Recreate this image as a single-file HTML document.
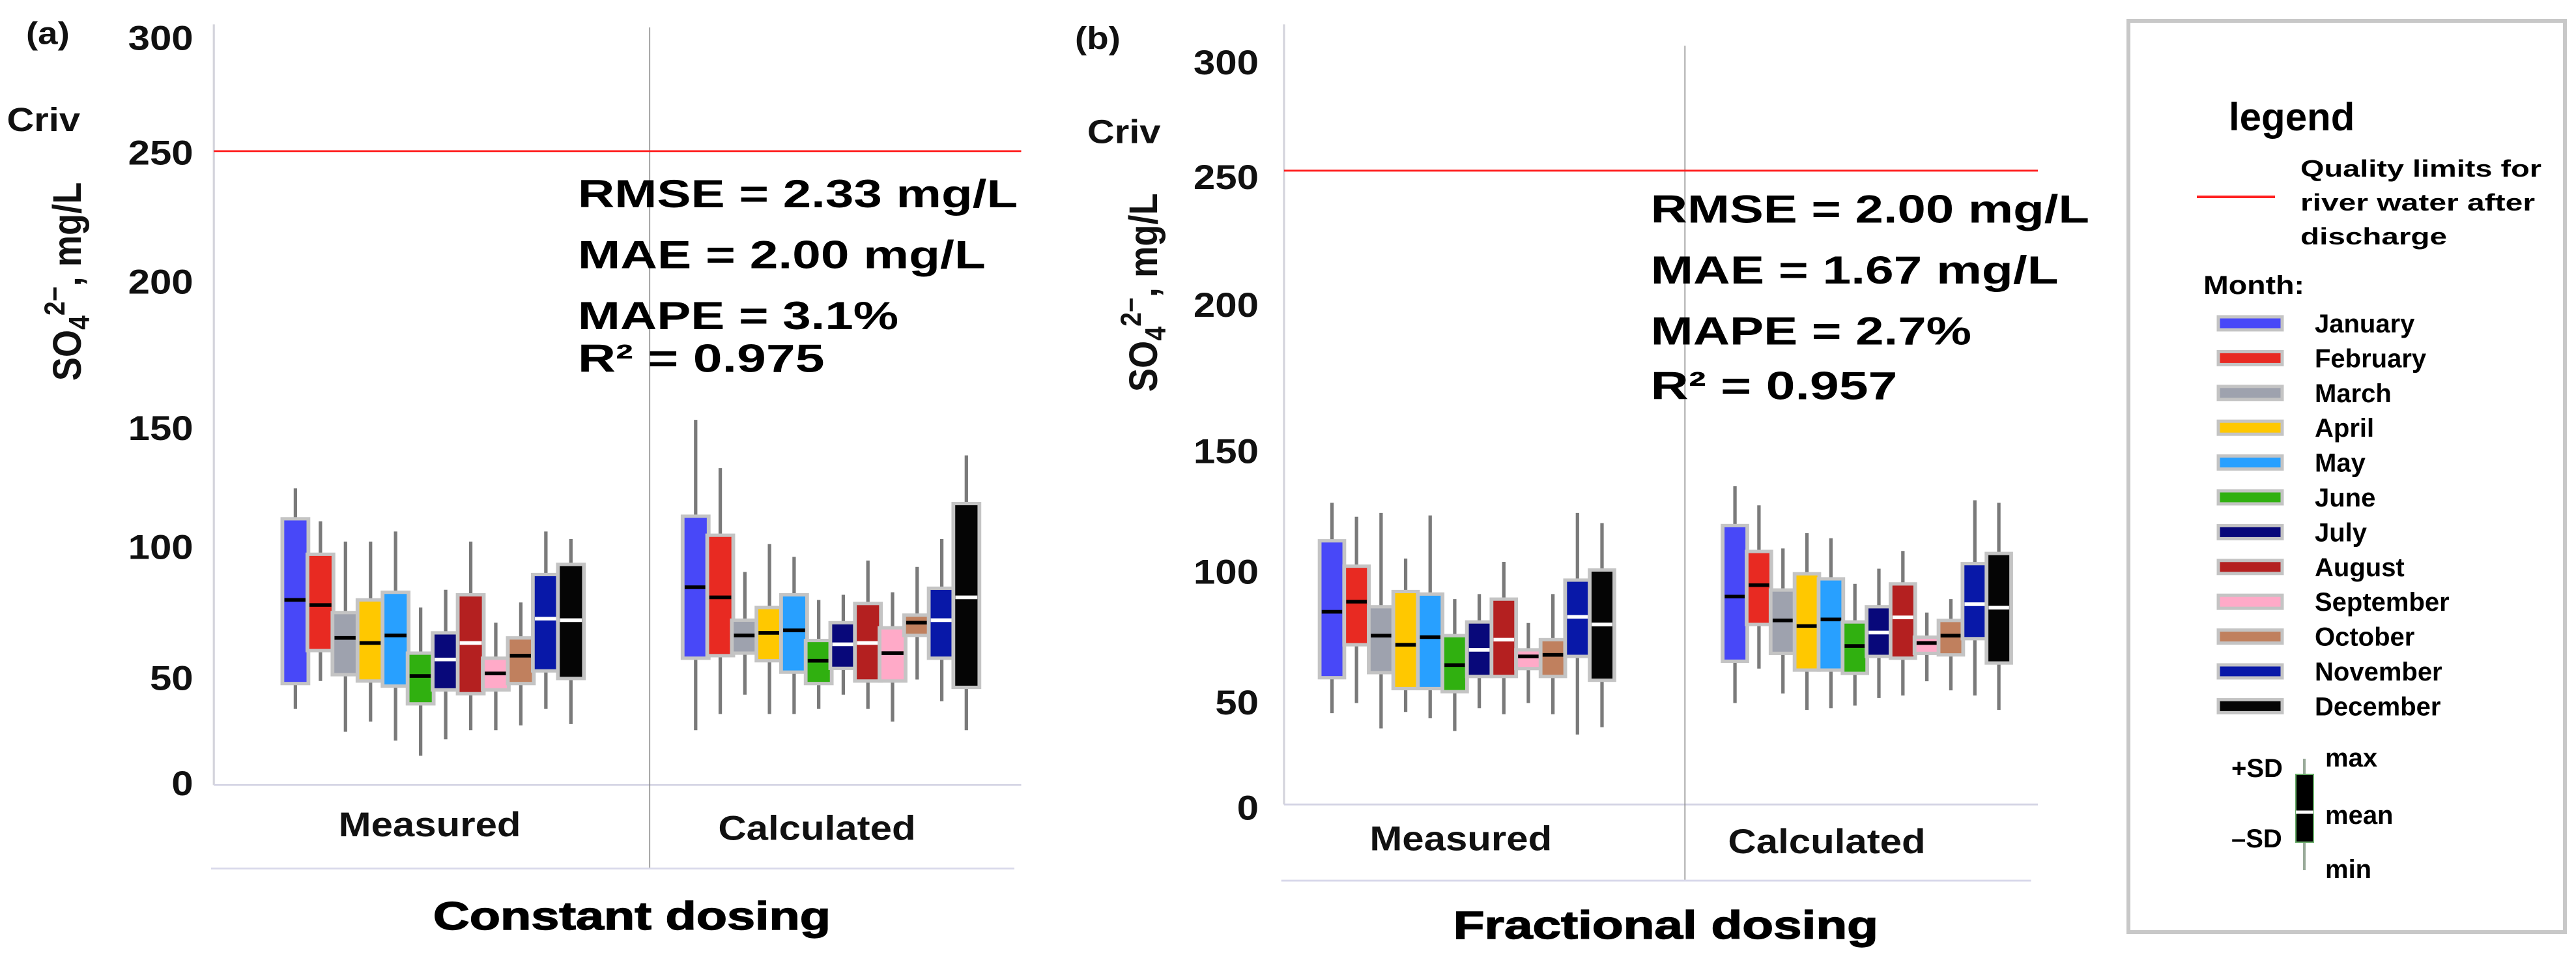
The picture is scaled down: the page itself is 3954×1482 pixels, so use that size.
<!DOCTYPE html>
<html><head><meta charset="utf-8"><style>
html,body{margin:0;padding:0;background:#fff;overflow:hidden}
svg{display:block;font-family:"Liberation Sans",Arial,sans-serif;font-weight:bold}
</style></head><body>
<svg id="fig" width="3954" height="1482" viewBox="0 0 3954 1482" xmlns="http://www.w3.org/2000/svg">
<rect width="3954" height="1482" fill="#fff"/>
<g id="panelA" transform="translate(0,0) scale(1.052,0.935)"></g>
<g id="panelB" transform="translate(1650,0) scale(1.052,0.935)"></g>
<g id="legend">
  <rect x="3267" y="32" width="670" height="1398" fill="#fff" stroke="#c8c8c8" stroke-width="6"/>
  <text x="3421" y="200" font-size="60">legend</text>
  <line x1="3372" y1="302" x2="3492" y2="302" stroke="#ff2020" stroke-width="4"/>
  <text x="3531" y="271" font-size="36" textLength="370" lengthAdjust="spacingAndGlyphs">Quality limits for</text>
  <text x="3531" y="323" font-size="36" textLength="360" lengthAdjust="spacingAndGlyphs">river water after</text>
  <text x="3531" y="375" font-size="36" textLength="225" lengthAdjust="spacingAndGlyphs">discharge</text>
  <text x="3382" y="451" font-size="40" textLength="155" lengthAdjust="spacingAndGlyphs">Month:</text>
  <g id="legendMonths"></g>
  <line x1="3537" y1="1164" x2="3537" y2="1335" stroke="#9a9" stroke-width="4"/>
  <rect x="3524" y="1188" width="27" height="104" fill="#000" stroke="#6a6" stroke-width="2"/>
  <line x1="3524" y1="1246" x2="3551" y2="1246" stroke="#fff" stroke-width="5"/>
  <text x="3425" y="1192" font-size="40">+SD</text>
  <text x="3425" y="1300" font-size="40">–SD</text>
  <text x="3569" y="1176" font-size="40">max</text>
  <text x="3569" y="1264" font-size="40">mean</text>
  <text x="3569" y="1347" font-size="40">min</text>
</g>
</svg>
<script>
const NS = "http://www.w3.org/2000/svg";
const months = ["January","February","March","April","May","June","July","August","September","October","November","December"];
const monthColors = ["#4848f8","#e82a22","#9ea2ae","#ffc800","#28a0ff","#30b010","#08087a","#b42020","#ffaac8","#c0805e","#0818a8","#050505"];
const meanColors = ["#000","#000","#000","#000","#000","#000","#fff","#fff","#000","#000","#fff","#fff"];
const tickValues = [0,50,100,150,200,250,300];
const tickLabels = ["0","50","100","150","200","250","300"];
const limitValue = 250;

// Panel A: constant dosing
const aMeasMax  = [117,104,96,96,100,70,77,96,64,72,100,97];
const aMeasHi   = [105,91,68,73,76,52,60,75,50,58,83,87];
const aMeasMean = [73,71,58,56,59,43,49.5,56,44,51,65.6,65];
const aMeasLo   = [40,53,43.5,41,39,32,37.5,36,37.5,40,45,42];
const aMeasMin  = [30,41,21,25,17.5,11.5,18,21.6,21.6,23.5,30,24];
const aCalcMax  = [144,125,84,95,90,73,75,88.5,76,86,97,130];
const aCalcHi   = [106,98.5,65,70,75,57,64,71.6,62,67,77.6,111];
const aCalcMean = [78,74,59,60,61,49,55.5,56,52,64,65,74];
const aCalcLo   = [50,51,52,49,44.5,40,46,41,41,59,50,38.5];
const aCalcMin  = [21.6,28,35.6,28,28,30,35.6,30,25,41.6,33,21.6];

// Panel B: fractional dosing
const bMeasMax  = [119,113.5,115,97,114,81,83,95.7,71.6,83,115,111];
const bMeasHi   = [104,94,78,84,83,66.6,72,81,61,65,88.5,92.5];
const bMeasMean = [76,80,66.6,63,66,55,61,65,58.4,59,74,71];
const bMeasLo   = [50,63,52,45.7,45.7,44.5,50.5,50.5,53.6,50.5,58.4,49];
const bMeasMin  = [36,40,30,36.5,34,29,38,35.6,40,35.6,27.6,30.5];
const bCalcMax  = [125.5,118,101,107,105,87,93,100,75.7,81,120,119];
const bCalcHi   = [110,99.8,84.6,91,89,72,78,87,66,72.6,95,99];
const bCalcMean = [82,86.5,72.6,70.4,73,62.5,67.8,73.8,63.7,66.6,79,77.6];
const bCalcLo   = [56.5,71,59.6,53,53,51.7,58.4,57.7,59.6,59,65.4,55.8];
const bCalcMin  = [40,53.6,43.8,37.3,38,39,42,43,48.6,45,43,37.3];

function mk(tag, attrs, parent, text){
  const e = document.createElementNS(NS, tag);
  for (const k in attrs) e.setAttribute(k, attrs[k]);
  if (text !== undefined) e.textContent = text;
  parent.appendChild(e);
  return e;
}

function drawPanel(g, cfg){
  const y = v => cfg.base - v * (cfg.base - cfg.limitY) / limitValue;
  let e;
  e = mk("line",{x1:cfg.left,y1:40,x2:cfg.left,y2:cfg.base,stroke:"#d4d4dc","stroke-width":3},g);
  
  
  e = mk("line",{x1:cfg.left,y1:cfg.base,x2:cfg.right,y2:cfg.base,stroke:"#d4d4e4","stroke-width":3},g);
  
  
  e = mk("line",{x1:cfg.div,y1:cfg.divTop,x2:cfg.div,y2:cfg.bottomLine,stroke:"#888","stroke-width":1.5},g);
  
  
  e = mk("line",{x1:cfg.left-4,y1:cfg.bottomLine,x2:cfg.right-10,y2:cfg.bottomLine,stroke:"#d8d8ea","stroke-width":3},g);
  
  
  tickValues.forEach((v,i)=>{
    const t = mk("text",{x:cfg.tickX,y:y(v)+20+cfg.tickShift[i],"font-size":57,"text-anchor":"end",fill:"#111"},g,tickLabels[i]);
    
    
  });
  e = mk("text",{x:cfg.crivX,y:cfg.crivY,"font-size":55,fill:"#111"},g,"Criv");
  
  
  e = mk("text",{transform:`translate(${cfg.ytX},${cfg.ytY}) rotate(-90)`,"font-size":58,"text-anchor":"middle",fill:"#111"},g);
  
  
  e.innerHTML = 'SO<tspan font-size="42" dy="12">4</tspan><tspan font-size="42" dy="-36">2−</tspan><tspan dy="24">, mg/L</tspan>';
  e = mk("line",{x1:cfg.left,y1:y(limitValue),x2:cfg.right,y2:y(limitValue),stroke:"#ff1a1a","stroke-width":3},g);
  
  
  const groups = [
    {name:"measured", xs:cfg.measX, mx:cfg.m[0], hi:cfg.m[1], me:cfg.m[2], lo:cfg.m[3], mn:cfg.m[4]},
    {name:"calculated", xs:cfg.calcX, mx:cfg.c[0], hi:cfg.c[1], me:cfg.c[2], lo:cfg.c[3], mn:cfg.c[4]}
  ];
  groups.forEach(gr=>{
    for (let i=0;i<12;i++){
      const cx = gr.xs[0] + i*(gr.xs[1]-gr.xs[0])/11;
      const bg = mk("g",{},g);
      
      
      mk("line",{x1:cx,y1:y(gr.mx[i]),x2:cx,y2:y(gr.mn[i]),stroke:"#7a7a7a","stroke-width":5},bg);
      const w = cfg.bw;
      mk("rect",{x:cx-w/2,y:y(gr.hi[i]),width:w,height:y(gr.lo[i])-y(gr.hi[i]),fill:monthColors[i],stroke:"#c4c4c4","stroke-width":5.5},bg);
      mk("line",{x1:cx-w/2+3,y1:y(gr.me[i]),x2:cx+w/2-3,y2:y(gr.me[i]),stroke:meanColors[i],"stroke-width":6},bg);
    }
  });
  e = mk("text",{x:cfg.measLabel[0],y:cfg.measLabel[1],"font-size":57,"text-anchor":"middle",fill:"#111"},g,"Measured");
  
  
  e = mk("text",{x:cfg.calcLabel[0],y:cfg.calcLabel[1],"font-size":57,"text-anchor":"middle",fill:"#111"},g,"Calculated");
  
  
  e = mk("text",{x:cfg.titleX,y:cfg.titleY,"font-size":64,"text-anchor":"middle",fill:"#000",textLength:cfg.titleLen,lengthAdjust:"spacingAndGlyphs","stroke":"#000","stroke-width":1.5},g,cfg.title);
  
  
  e = mk("text",{x:cfg.tagX,y:cfg.tagY,"font-size":52,fill:"#111"},g,cfg.tag);
  
  
  cfg.stats.forEach((s,i)=>{
    const t = mk("text",{x:cfg.statX,y:cfg.statY[i],"font-size":64,fill:"#000",textLength:s[1],lengthAdjust:"spacingAndGlyphs"},g,s[0]);
    
    
  });
}

drawPanel(document.getElementById("panelA"),{
  base:1288, limitY:248, left:312, right:1490, div:948, divTop:45, bottomLine:1425,
  tickX:282, tickShift:[-3,32,25,38,6,2,22], crivX:10, crivY:215, ytX:118, ytY:462,
  measX:[431,833], calcX:[1015,1410], bw:38,
  m:[aMeasMax,aMeasHi,aMeasMean,aMeasLo,aMeasMin],
  c:[aCalcMax,aCalcHi,aCalcMean,aCalcLo,aCalcMin],
  measLabel:[627,1372], calcLabel:[1192,1378],
  title:"Constant dosing", titleX:922, titleY:1525, titleLen:580,
  tag:"(a)", tagX:38, tagY:72,
  statX:843, statY:[340,440,540,610],
  stats:[["RMSE = 2.33 mg/L",642],["MAE = 2.00 mg/L",595],["MAPE = 3.1%",468],["R² = 0.975",360]]
});
drawPanel(document.getElementById("panelB"),{
  base:1320, limitY:280, left:305, right:1405, div:890, divTop:75, bottomLine:1445,
  tickX:268, tickShift:[5,40,34,44,12,10,30], crivX:18, crivY:235, ytX:120, ytY:480,
  measX:[375,769], calcX:[963,1348], bw:36,
  m:[bMeasMax,bMeasHi,bMeasMean,bMeasLo,bMeasMin],
  c:[bCalcMax,bCalcHi,bCalcMean,bCalcLo,bCalcMin],
  measLabel:[563,1395], calcLabel:[1097,1400],
  title:"Fractional dosing", titleX:862, titleY:1540, titleLen:620,
  tag:"(b)", tagX:0, tagY:80,
  statX:840, statY:[365,465,565,655],
  stats:[["RMSE = 2.00 mg/L",640],["MAE = 1.67 mg/L",595],["MAPE = 2.7%",468],["R² = 0.957",360]]
});

const lg = document.getElementById("legendMonths");
months.forEach((m,i)=>{
  const cy = 496 + i*53.4;
  const row = mk("g",{},lg);
  
  
  mk("rect",{x:3405,y:cy-10,width:98,height:20,fill:monthColors[i],stroke:"#c4c4c4","stroke-width":5},row);
  mk("text",{x:3553,y:cy+14,"font-size":40,fill:"#000"},row,m);
});
</script>
</body></html>
